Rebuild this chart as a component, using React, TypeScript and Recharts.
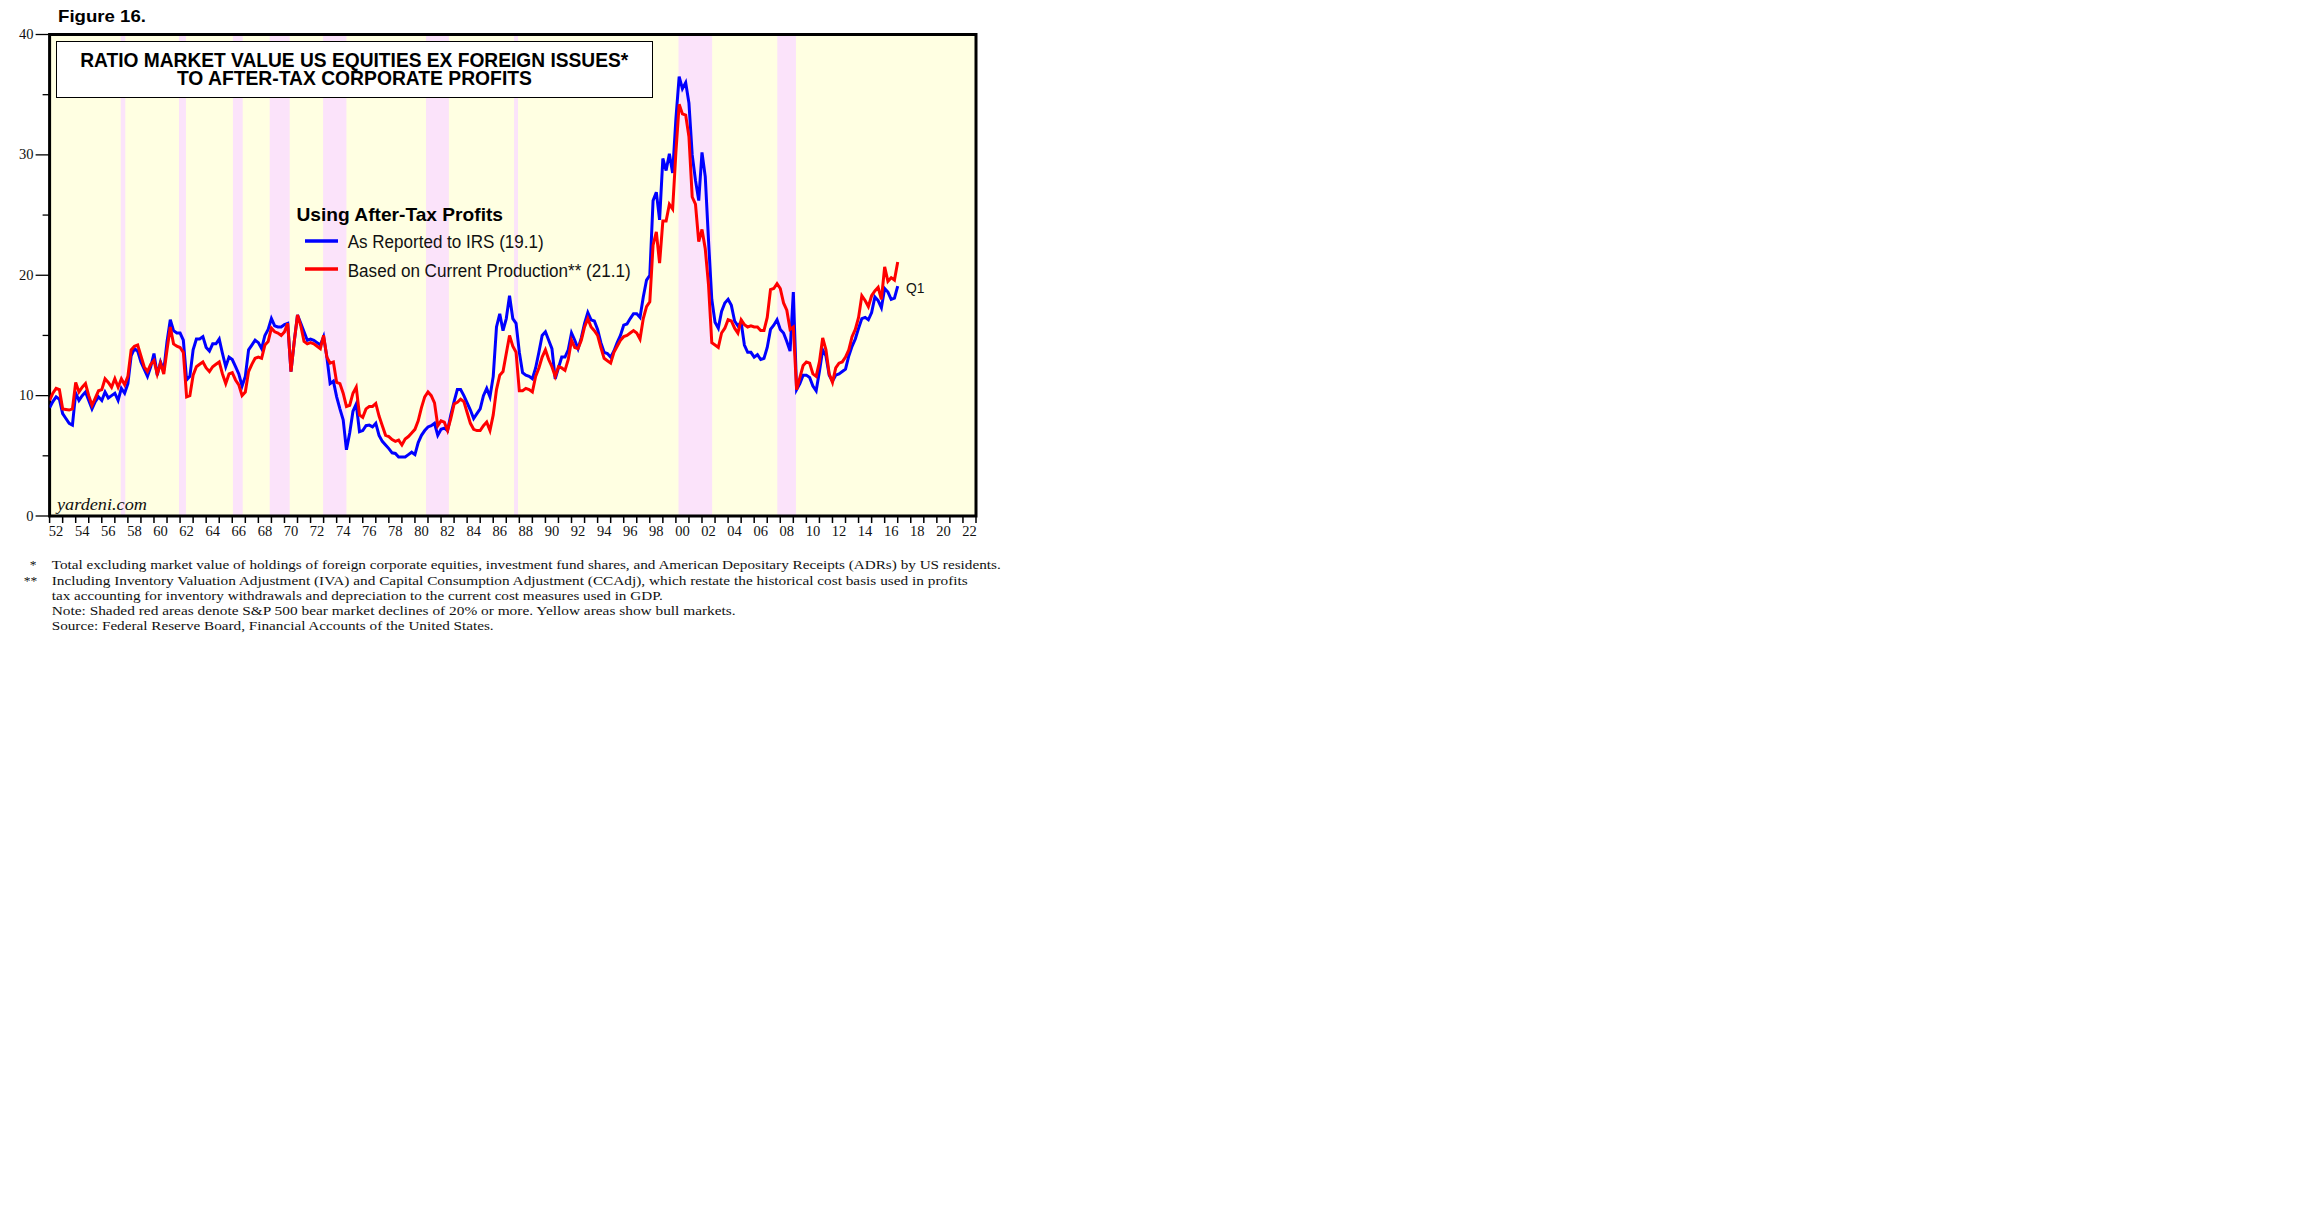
import React from "react";
import { LineChart, Line, XAxis, YAxis, ReferenceArea } from "recharts";

// quarterly, 1952Q1 .. 2017Q1
const FIRST_YEAR = 1952;

// As reported to IRS (blue)
const asReported = [
  9.0, 9.5, 9.9, 9.7, 8.5, 8.1, 7.7, 7.55, // 52-53
  10.2, 9.6, 10.0, 10.3, 9.6, 8.9, 9.5, 9.9, // 54-55
  9.6, 10.3, 9.8, 10.0, 10.2, 9.6, 10.6, 10.2, // 56-57
  11.0, 13.3, 13.9, 13.7, 12.8, 12.2, 11.6, 12.4, // 58-59
  13.5, 11.7, 12.8, 12.1, 14.5, 16.3, 15.4, 15.2, // 60-61
  15.2, 14.6, 11.3, 11.6, 13.8, 14.7, 14.7, 14.9, // 62-63
  14.0, 13.7, 14.3, 14.3, 14.7, 13.5, 12.4, 13.2, // 64-65
  13.0, 12.4, 11.8, 10.8, 11.6, 13.8, 14.2, 14.6, // 66-67
  14.4, 13.9, 15.0, 15.5, 16.4, 15.8, 15.7, 15.7, // 68-69
  15.9, 16.0, 12.0, 14.5, 16.7, 16.0, 15.3, 14.6, // 70-71
  14.7, 14.6, 14.4, 14.2, 14.9, 13.2, 11.0, 11.2, // 72-73
  9.9, 8.9, 8.0, 5.5, 6.9, 8.7, 9.3, 7.0, // 74-75
  7.1, 7.5, 7.55, 7.4, 7.7, 6.7, 6.2, 5.9, // 76-77
  5.6, 5.25, 5.2, 4.9, 4.9, 4.9, 5.1, 5.3, // 78-79
  5.1, 6.1, 6.7, 7.1, 7.4, 7.5, 7.7, 6.7, // 80-81
  7.2, 7.3, 7.1, 8.4, 9.5, 10.5, 10.5, 10.0, // 82-83
  9.4, 8.8, 8.1, 8.5, 8.9, 10.0, 10.6, 9.9, // 84-85
  11.6, 15.7, 16.8, 15.4, 16.4, 18.3, 16.4, 16.0, // 86-87
  13.6, 11.9, 11.7, 11.6, 11.4, 12.3, 13.6, 15.0, // 88-89
  15.3, 14.6, 13.9, 11.4, 12.3, 13.2, 13.2, 13.8, // 90-91
  15.2, 14.6, 13.9, 14.8, 16.0, 16.9, 16.3, 16.2, // 92-93
  15.5, 14.4, 13.6, 13.5, 13.2, 13.7, 14.4, 15.0, // 94-95
  15.85, 15.95, 16.4, 16.8, 16.8, 16.5, 18.2, 19.6, // 96-97
  20.0, 26.2, 26.9, 24.6, 29.7, 28.7, 30.1, 28.5, // 98-99
  33.0, 36.5, 35.5, 36.0, 34.3, 30.0, 27.9, 26.2, // 00-01
  30.2, 28.2, 22.9, 18.0, 16.1, 15.6, 17.0, 17.7, // 02-03
  18.0, 17.5, 16.2, 15.8, 16.1, 14.2, 13.6, 13.6, // 04-05
  13.2, 13.4, 13.0, 13.1, 14.0, 15.5, 15.85, 16.3, // 06-07
  15.5, 15.2, 14.5, 13.7, 18.6, 10.5, 11.0, 11.7, // 08-09
  11.7, 11.5, 10.8, 10.4, 12.0, 13.8, 13.3, 11.7, // 10-11
  11.2, 11.7, 11.8, 12.0, 12.2, 13.3, 14.1, 14.7, // 12-13
  15.6, 16.4, 16.5, 16.3, 16.9, 18.2, 17.9, 17.3, // 14-15
  18.9, 18.6, 18.0, 18.1, 19.1, // 16-17Q1
];

// Based on current production (red)
const currentProduction = [
  9.6, 10.2, 10.6, 10.5, 8.9, 8.85, 8.8, 8.9, // 52-53
  11.1, 10.3, 10.7, 11.0, 10.0, 9.2, 9.8, 10.4, // 54-55
  10.5, 11.4, 11.1, 10.7, 11.4, 10.7, 11.4, 10.9, // 56-57
  11.6, 13.8, 14.1, 14.2, 13.3, 12.4, 12.0, 12.6, // 58-59
  12.9, 11.8, 12.7, 11.8, 13.8, 15.7, 14.3, 14.1, // 60-61
  14.0, 13.6, 9.9, 10.0, 11.7, 12.4, 12.6, 12.8, // 62-63
  12.3, 12.0, 12.4, 12.6, 12.8, 11.8, 11.0, 11.8, // 64-65
  11.9, 11.3, 10.9, 10.0, 10.3, 12.0, 12.6, 13.1, // 66-67
  13.2, 13.1, 14.2, 14.5, 15.6, 15.3, 15.2, 15.0, // 68-69
  15.3, 16.0, 12.0, 14.5, 16.7, 15.8, 14.5, 14.3, // 70-71
  14.4, 14.3, 14.1, 13.9, 15.0, 13.2, 12.7, 12.8, // 72-73
  11.1, 11.0, 10.2, 9.1, 9.2, 10.2, 10.7, 8.4, // 74-75
  8.2, 8.9, 9.1, 9.1, 9.35, 8.3, 7.5, 6.7, // 76-77
  6.6, 6.35, 6.2, 6.3, 5.9, 6.4, 6.6, 6.9, // 78-79
  7.2, 7.9, 9.0, 9.9, 10.3, 10.0, 9.4, 7.5, // 80-81
  7.9, 7.8, 7.1, 8.1, 9.3, 9.45, 9.7, 9.5, // 82-83
  8.6, 7.7, 7.2, 7.1, 7.1, 7.5, 7.8, 7.1, // 84-85
  8.4, 10.5, 11.7, 12.0, 13.5, 15.0, 14.1, 13.6, // 86-87
  10.4, 10.4, 10.6, 10.5, 10.3, 11.6, 12.3, 13.2, // 88-89
  13.8, 13.0, 12.4, 11.6, 12.4, 12.3, 12.1, 13.0, // 90-91
  14.6, 14.0, 13.9, 14.6, 15.7, 16.4, 15.7, 15.4, // 92-93
  15.0, 14.0, 13.1, 12.9, 12.7, 13.6, 14.1, 14.6, // 94-95
  14.9, 15.0, 15.2, 15.4, 15.2, 14.7, 16.4, 17.4, // 96-97
  17.8, 22.5, 23.6, 21.0, 24.5, 24.5, 25.9, 25.5, // 98-99
  30.2, 34.2, 33.4, 33.3, 31.5, 26.5, 25.9, 22.8, // 00-01
  23.8, 22.2, 19.2, 14.4, 14.2, 14.0, 15.2, 15.6, // 02-03
  16.3, 16.2, 15.6, 15.2, 16.3, 15.9, 15.7, 15.8, // 04-05
  15.7, 15.7, 15.4, 15.4, 16.5, 18.8, 18.9, 19.3, // 06-07
  18.9, 17.7, 17.1, 15.5, 15.7, 10.5, 11.5, 12.5, // 08-09
  12.8, 12.7, 11.8, 11.6, 12.8, 14.8, 13.8, 11.8, // 10-11
  11.1, 12.3, 12.7, 12.8, 13.2, 13.8, 14.9, 15.5, // 12-13
  16.5, 18.3, 17.9, 17.4, 18.3, 18.7, 19.0, 18.0, // 14-15
  20.7, 19.5, 19.8, 19.6, 21.1, // 16-17Q1
];

// S&P 500 bear markets (pink bands)
const bearStart = [1957.45, 1961.92, 1966.05, 1968.87, 1972.96, 1980.85, 1987.6, 2000.2, 2007.77];
const bearEnd = [1957.8, 1962.45, 1966.8, 1970.4, 1974.75, 1982.6, 1987.9, 2002.78, 2009.2];

const yTicks = [0, 5, 10, 15, 20, 25, 30, 35, 40];
const yearLabels = ["52", "54", "56", "58", "60", "62", "64", "66", "68", "70", "72", "74", "76", "78", "80", "82", "84", "86", "88", "90", "92", "94", "96", "98", "00", "02", "04", "06", "08", "10", "12", "14", "16", "18", "20", "22"];
const xTicks = Array.from({ length: 72 }, (_, i) => FIRST_YEAR + i);

const footnotes = [
  "Total excluding market value of holdings of foreign corporate equities, investment fund shares, and American Depositary Receipts (ADRs) by US residents.",
  "Including Inventory Valuation Adjustment (IVA) and Capital Consumption Adjustment (CCAdj), which restate the historical cost basis used in profits",
  "tax accounting for inventory withdrawals and depreciation to the current cost measures used in GDP.",
  "Note: Shaded red areas denote S&P 500 bear market declines of 20% or more. Yellow areas show bull markets.",
  "Source: Federal Reserve Board, Financial Accounts of the United States.",
];
const footWidths = [949, 916, 611, 684, 442];
const footY = [568.7, 584.8, 599.5, 615, 630.2];

const data = asReported.map((v, i) => ({ t: FIRST_YEAR + i / 4, irs: v, cp: currentProduction[i] }));

const BLUE = "#0000FF";
const RED = "#FF0000";
const YELLOW = "#FFFFE2";
const PINK = "#FBE3FA";
const SERIF = "'Liberation Serif', 'Times New Roman', serif";
const SANS = "'Liberation Sans', Arial, sans-serif";

const W = 1040;
const H = 560;
const PLOT_W = 976 - 49.6;
const HALF_YEAR = PLOT_W / 71 / 2;

const LeftTick = (props: any) => {
  const { x, y, payload } = props;
  const major = payload.value % 10 === 0;
  return (
    <g>
      <line x1={x - (major ? 14 : 7)} x2={x} y1={y} y2={y} stroke="#000" strokeWidth={1.3} />
      {major && (
        <text x={x - 16} y={y + 4.5} textAnchor="end" fontFamily={SERIF} fontSize={14.5} fill="#111">
          {payload.value}
        </text>
      )}
    </g>
  );
};

const RightTick = (props: any) => {
  const { x, y, payload } = props;
  const major = payload.value % 10 === 0;
  return (
    <g>
      <line x1={x} x2={x + (major ? 11 : 7)} y1={y} y2={y} stroke="#000" strokeWidth={1.3} />
      {major && (
        <text x={x + 16} y={y + 4.5} textAnchor="start" fontFamily={SERIF} fontSize={14.5} fill="#111">
          {payload.value}
        </text>
      )}
    </g>
  );
};

const YearTick = (props: any) => {
  const { x, y, payload } = props;
  const yr = payload.value;
  const idx = (yr - FIRST_YEAR) / 2;
  const label = yr % 2 === 0 && idx < yearLabels.length ? yearLabels[idx] : null;
  return (
    <g>
      <line x1={x} x2={x} y1={y} y2={y + 7} stroke="#000" strokeWidth={1.5} />
      {label && (
        <text x={x + HALF_YEAR} y={y + 19.5} textAnchor="middle" fontFamily={SERIF} fontSize={14.5} fill="#111">
          {label}
        </text>
      )}
    </g>
  );
};

export default function App() {
  return (
    <div style={{ position: "absolute", left: 0, top: 0, width: 2304, height: 1228, background: "#fff" }}>
      <div style={{ position: "absolute", left: 0, top: 0 }}>
        <LineChart width={W} height={H} data={data} margin={{ top: 34.5, right: 14, bottom: 4, left: 0 }}>
          <XAxis
            dataKey="t"
            type="number"
            domain={[1952, 2023]}
            ticks={xTicks}
            interval={0}
            tick={(p: any) => <YearTick {...p} />}
            tickLine={false}
            axisLine={false}
            tickSize={0}
            tickMargin={0}
            height={40}
            allowDataOverflow
          />
          <YAxis
            yAxisId="left"
            orientation="left"
            domain={[0, 40]}
            ticks={yTicks}
            interval={0}
            tick={(p: any) => <LeftTick {...p} />}
            tickLine={false}
            axisLine={false}
            tickSize={0}
            tickMargin={0}
            width={49.6}
          />
          <YAxis
            yAxisId="right"
            orientation="right"
            domain={[0, 40]}
            ticks={yTicks}
            interval={0}
            tick={(p: any) => <RightTick {...p} />}
            tickLine={false}
            axisLine={false}
            tickSize={0}
            tickMargin={0}
            width={50}
          />
          <ReferenceArea yAxisId="left" x1={1952} x2={2023} y1={0} y2={40} fill={YELLOW} fillOpacity={1} stroke="none" />
          {bearStart.map((s, i) => (
            <ReferenceArea key={s} yAxisId="left" x1={s} x2={bearEnd[i]} y1={0} y2={40} fill={PINK} fillOpacity={1} stroke="none" />
          ))}
          <Line yAxisId="left" type="linear" dataKey="irs" stroke={BLUE} strokeWidth={3} dot={false} isAnimationActive={false} />
          <Line yAxisId="left" type="linear" dataKey="cp" stroke={RED} strokeWidth={3} dot={false} isAnimationActive={false} />
          <ReferenceArea yAxisId="left" x1={1952} x2={2023} y1={0} y2={40} fill="none" stroke="#000" strokeWidth={3} />
        </LineChart>
      </div>
      <svg width={2304} height={1228} style={{ position: "absolute", left: 0, top: 0, pointerEvents: "none" }}>
        <text x={58} y={22} fontFamily={SANS} fontWeight="bold" fontSize={17} textLength={88} lengthAdjust="spacingAndGlyphs">
          Figure 16.
        </text>
        <text x={296.5} y={221} fontFamily={SANS} fontWeight="bold" fontSize={18.5} textLength={206.5} lengthAdjust="spacingAndGlyphs">
          Using After-Tax Profits
        </text>
        <line x1={305} x2={338} y1={241} y2={241} stroke={BLUE} strokeWidth={3.5} />
        <text x={347.7} y={248} fontFamily={SANS} fontSize={17.5} fill="#111" textLength={196} lengthAdjust="spacingAndGlyphs">
          As Reported to IRS (19.1)
        </text>
        <line x1={305} x2={338} y1={269} y2={269} stroke={RED} strokeWidth={3.5} />
        <text x={347.7} y={276.5} fontFamily={SANS} fontSize={17.5} fill="#111" textLength={283} lengthAdjust="spacingAndGlyphs">
          Based on Current Production** (21.1)
        </text>
        <text x={906} y={292.5} fontFamily={SANS} fontSize={15.5} fill="#111" textLength={18.5} lengthAdjust="spacingAndGlyphs">
          Q1
        </text>
        <text x={57} y={509.5} fontFamily={SERIF} fontStyle="italic" fontSize={17} fill="#111" textLength={90} lengthAdjust="spacingAndGlyphs">
          yardeni.com
        </text>
        <text x={33} y={568.5} textAnchor="middle" fontFamily={SERIF} fontSize={13.5} fill="#111">*</text>
        <text x={30.5} y={585} textAnchor="middle" fontFamily={SERIF} fontSize={13.5} fill="#111">**</text>
        {footnotes.map((f, i) => (
          <text
            key={i}
            x={51.7}
            y={footY[i]}
            fontFamily={SERIF}
            fontSize={13.5}
            fill="#111"
            textLength={footWidths[i]}
            lengthAdjust="spacingAndGlyphs"
          >
            {f}
          </text>
        ))}
      </svg>
      <div
        style={{
          position: "absolute",
          left: 55.8,
          top: 40.7,
          width: 595.6,
          height: 55.3,
          background: "#fff",
          border: "1.3px solid #000",
        }}
      >
        <svg width={596} height={56} style={{ display: "block" }}>
          <text x={23.2} y={24.5} fontFamily={SANS} fontWeight="bold" fontSize={19.5} textLength={548} lengthAdjust="spacingAndGlyphs">
            RATIO MARKET VALUE US EQUITIES EX FOREIGN ISSUES*
          </text>
          <text x={119.9} y={43.3} fontFamily={SANS} fontWeight="bold" fontSize={19.5} textLength={355} lengthAdjust="spacingAndGlyphs">
            TO AFTER-TAX CORPORATE PROFITS
          </text>
        </svg>
      </div>
    </div>
  );
}
